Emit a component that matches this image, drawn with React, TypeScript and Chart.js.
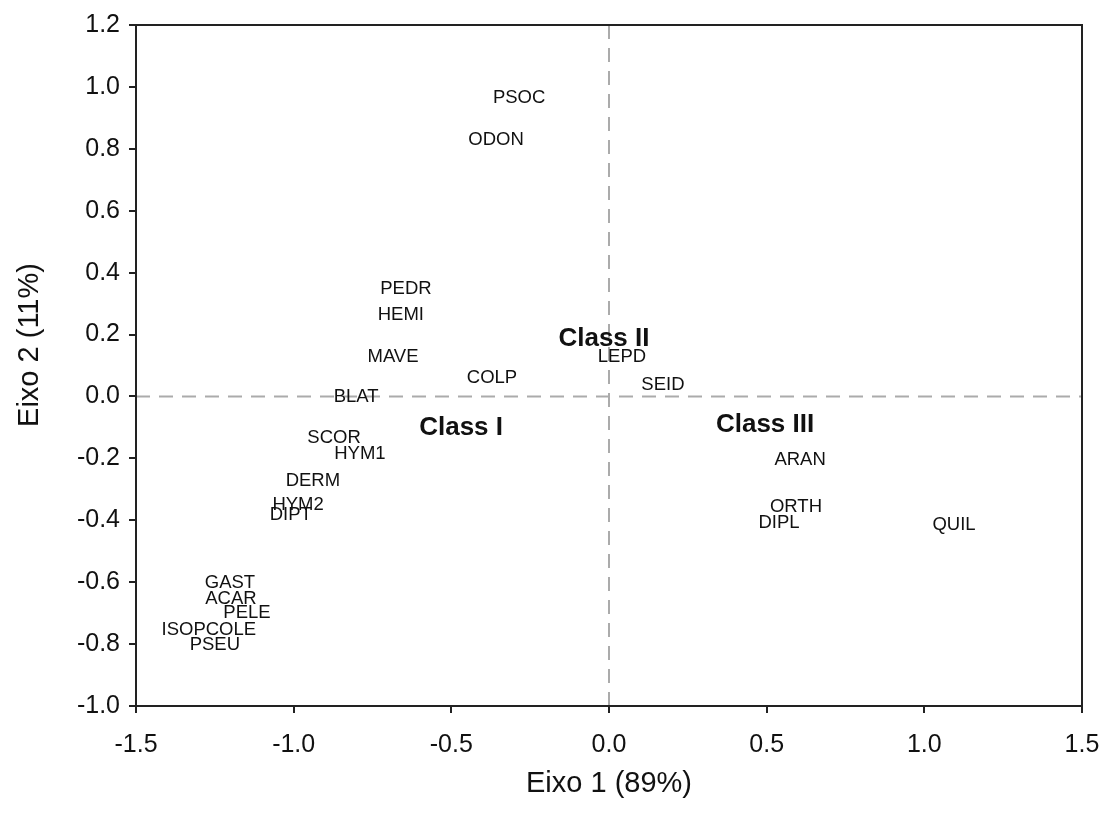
import React, { useEffect, useRef } from "react";
import { Chart, registerables } from "chart.js";

Chart.register(...registerables);

const speciesNames = ["PSOC", "ODON", "PEDR", "HEMI", "MAVE", "COLP", "BLAT", "SCOR", "HYM1", "DERM", "HYM2", "DIPT", "GAST", "ACAR", "PELE", "ISOPCOLE", "PSEU", "LEPD", "SEID", "ARAN", "ORTH", "DIPL", "QUIL"];
const speciesAxis1 = [-0.285, -0.358, -0.644, -0.660, -0.685, -0.371, -0.802, -0.872, -0.790, -0.939, -0.986, -1.009, -1.202, -1.199, -1.148, -1.269, -1.250, 0.041, 0.171, 0.606, 0.593, 0.539, 1.094];
const speciesAxis2 = [0.964, 0.829, 0.347, 0.263, 0.127, 0.060, 0.0, -0.135, -0.184, -0.273, -0.351, -0.384, -0.603, -0.655, -0.700, -0.754, -0.803, 0.127, 0.037, -0.205, -0.357, -0.409, -0.415];

const classNames = ["Class I", "Class II", "Class III"];
const classAxis1 = [-0.469, -0.016, 0.495];
const classAxis2 = [-0.102, 0.186, -0.092];

const xTitle = "Eixo 1 (89%)";
const yTitle = "Eixo 2 (11%)";

const FONT = "Arial, 'Liberation Sans', Helvetica, sans-serif";

const textPlugin = {
  id: "textPlugin",
  beforeDatasetsDraw(chart: any) {
    const { ctx, chartArea, scales } = chart;
    const x0 = scales.x.getPixelForValue(0);
    const y0 = scales.y.getPixelForValue(0);
    ctx.save();
    ctx.strokeStyle = "#ababab";
    ctx.lineWidth = 2;
    ctx.setLineDash([14, 9]);
    ctx.beginPath();
    ctx.moveTo(chartArea.left, y0);
    ctx.lineTo(chartArea.right, y0);
    ctx.stroke();
    ctx.beginPath();
    ctx.moveTo(x0, chartArea.top);
    ctx.lineTo(x0, chartArea.bottom);
    ctx.stroke();
    ctx.restore();
  },
  afterDatasetsDraw(chart: any) {
    const { ctx } = chart;
    const groups = [
      { names: speciesNames, font: `18.5px ${FONT}` },
      { names: classNames, font: `bold 26px ${FONT}` },
    ];
    groups.forEach((g, di) => {
      const meta = chart.getDatasetMeta(di);
      ctx.save();
      ctx.font = g.font;
      ctx.fillStyle = "#111";
      ctx.textAlign = "center";
      ctx.textBaseline = "middle";
      meta.data.forEach((pt: any, i: number) => {
        ctx.fillText(g.names[i], pt.x, pt.y);
      });
      ctx.restore();
    });
  },
  afterDraw(chart: any) {
    const { ctx, chartArea } = chart;
    ctx.save();
    ctx.strokeStyle = "#222";
    ctx.lineWidth = 2;
    ctx.strokeRect(chartArea.left, chartArea.top, chartArea.right - chartArea.left, chartArea.bottom - chartArea.top);
    // y-axis title
    ctx.translate(30, 345);
    ctx.rotate(-Math.PI / 2);
    ctx.font = `29px ${FONT}`;
    ctx.fillStyle = "#111";
    ctx.textAlign = "center";
    ctx.textBaseline = "middle";
    ctx.fillText(yTitle, 0, 0);
    ctx.restore();
  },
};

export default function App() {
  const ref = useRef<HTMLCanvasElement>(null);
  useEffect(() => {
    if (!ref.current) return;
    const chart = new Chart(ref.current, {
      type: "scatter",
      data: {
        datasets: [
          {
            data: speciesAxis1.map((x, i) => ({ x, y: speciesAxis2[i] })),
            pointRadius: 0,
            pointHoverRadius: 0,
          },
          {
            data: classAxis1.map((x, i) => ({ x, y: classAxis2[i] })),
            pointRadius: 0,
            pointHoverRadius: 0,
          },
        ],
      },
      options: {
        animation: false,
        responsive: false,
        layout: { padding: { top: 25, right: 24, bottom: 0, left: 0 } },
        plugins: { legend: { display: false }, tooltip: { enabled: false } },
        scales: {
          x: {
            type: "linear",
            min: -1.5,
            max: 1.5,
            afterFit: (s: any) => {
              s.height = 115;
              s.paddingLeft = 0;
              s.paddingRight = 0;
            },
            ticks: {
              stepSize: 0.5,
              color: "#111",
              font: { size: 25, family: FONT },
              padding: 17,
              maxRotation: 0,
              callback: (v: any) => Number(v).toFixed(1),
            },
            grid: { drawOnChartArea: false, drawTicks: true, tickLength: 7, color: "#222", lineWidth: 2 },
            border: { display: true, color: "#222", width: 2 },
            title: { display: true, text: xTitle, color: "#111", font: { size: 29, family: FONT }, padding: { top: 0, bottom: 20 } },
          },
          y: {
            type: "linear",
            min: -1.0,
            max: 1.2,
            afterFit: (s: any) => {
              s.width = 136;
              s.paddingTop = 0;
              s.paddingBottom = 0;
            },
            ticks: {
              stepSize: 0.2,
              color: "#111",
              font: { size: 25, family: FONT },
              padding: 9,
              callback: (v: any) => Number(v).toFixed(1),
            },
            grid: { drawOnChartArea: false, drawTicks: true, tickLength: 7, color: "#222", lineWidth: 2 },
            border: { display: true, color: "#222", width: 2 },
            title: { display: false },
          },
        },
      },
      plugins: [textPlugin],
    });
    return () => chart.destroy();
  }, []);
  return (
    <div style={{ position: "absolute", left: 0, top: 0, width: 1106, height: 821, background: "#fff" }}>
      <canvas ref={ref} width={1106} height={821} />
    </div>
  );
}
